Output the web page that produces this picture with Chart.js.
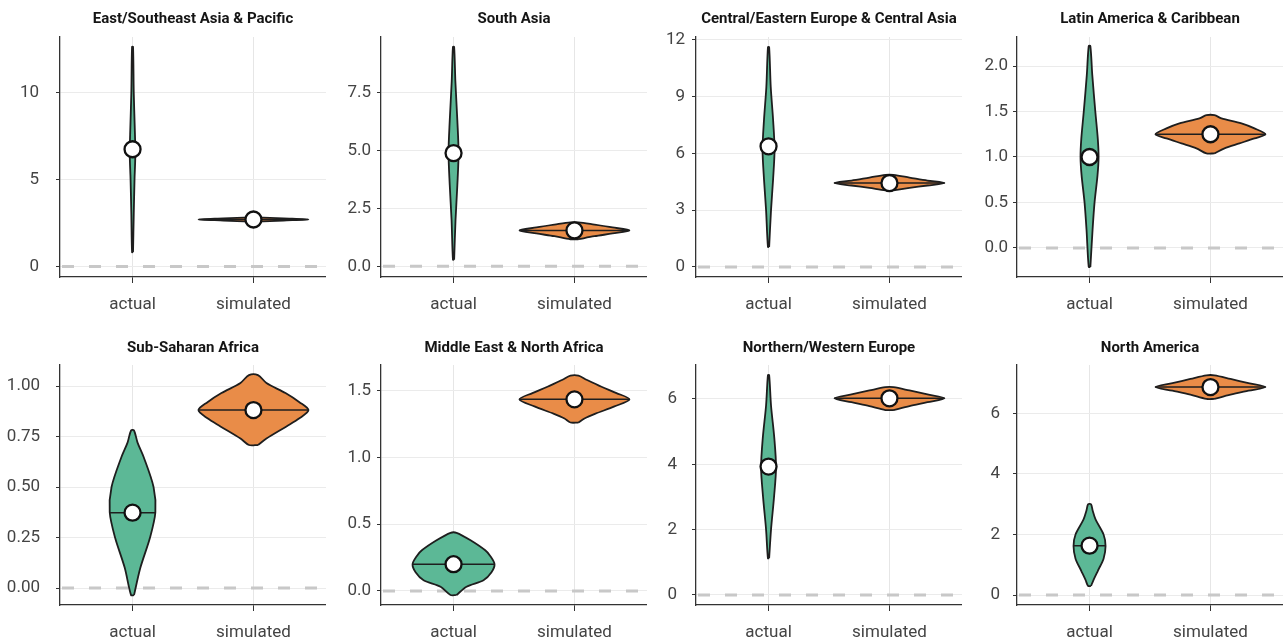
<!DOCTYPE html>
<html>
<head>
<meta charset="utf-8">
<script src="https://cdn.jsdelivr.net/npm/chart.js@4.4.1/dist/chart.umd.min.js"></script>
<style>
  html, body { margin: 0; padding: 0; background: #fff; }
  #wrap { position: relative; width: 1286px; height: 643px; overflow: hidden; }
  #wrap canvas { position: absolute; }
</style>
</head>
<body>
<div id="wrap"></div>
<script>
const regions = [
  'East/Southeast Asia & Pacific', 'South Asia', 'Central/Eastern Europe & Central Asia', 'Latin America & Caribbean',
  'Sub-Saharan Africa', 'Middle East & North Africa', 'Northern/Western Europe', 'North America'
];
const categories = ['actual', 'simulated'];

const yMin = [-0.61, -0.46, -0.53, -0.32, -0.084, -0.105, -0.31, -0.33];
const yMax = [13.2, 9.9, 12.14, 2.32, 1.104, 1.69, 7.04, 7.6];
const yTickLabels = [
  ['0', '5', '10'],
  ['0.0', '2.5', '5.0', '7.5'],
  ['0', '3', '6', '9', '12'],
  ['0.0', '0.5', '1.0', '1.5', '2.0'],
  ['0.00', '0.25', '0.50', '0.75', '1.00'],
  ['0.0', '0.5', '1.0', '1.5'],
  ['0', '2', '4', '6'],
  ['0', '2', '4', '6']
];

const actualMedian = [6.74, 4.89, 6.37, 1.0, 0.373, 0.2, 3.93, 1.63];
const simulatedMedian = [2.7, 1.55, 4.43, 1.25, 0.881, 1.433, 6.02, 6.87];

// violin outlines: value levels and relative density width (1 = widest violin)
const actualY = [
  [0.82, 3, 5, 6.5, 8, 10, 12.63],
  [0.29, 2, 3.5, 4.9, 6.3, 8, 9.47],
  [1.06, 3, 4.6, 6.2, 7.8, 9.5, 11.6],
  [-0.21, 0.2, 0.5, 0.8, 1.0, 1.2, 1.5, 1.9, 2.22],
  [-0.035, 0.1, 0.25, 0.375, 0.5, 0.65, 0.72, 0.78],
  [-0.03, 0.032, 0.08, 0.14, 0.2, 0.26, 0.304, 0.379, 0.435],
  [1.12, 2, 3, 3.9, 4.8, 5.8, 6.73],
  [0.3, 0.5, 0.8, 1.2, 1.62, 2.0, 2.5, 2.8, 3.0]
];
const actualWidth = [
  [0.009, 0.022, 0.036, 0.051, 0.04, 0.022, 0.009],
  [0.011, 0.036, 0.069, 0.091, 0.069, 0.033, 0.011],
  [0.011, 0.045, 0.082, 0.109, 0.082, 0.04, 0.011],
  [0.015, 0.055, 0.091, 0.145, 0.164, 0.15, 0.105, 0.05, 0.015],
  [0.027, 0.142, 0.318, 0.415, 0.382, 0.2, 0.091, 0.027],
  [0.055, 0.236, 0.545, 0.69, 0.745, 0.67, 0.576, 0.309, 0.055],
  [0.011, 0.045, 0.1, 0.136, 0.105, 0.045, 0.011],
  [0.027, 0.073, 0.151, 0.255, 0.291, 0.255, 0.109, 0.055, 0.027]
];
const simulatedY = [
  [2.58, 2.64, 2.7, 2.76, 2.82],
  [1.17, 1.3, 1.42, 1.55, 1.68, 1.8, 1.9],
  [4.04, 4.17, 4.3, 4.43, 4.56, 4.72, 4.86],
  [1.04, 1.095, 1.15, 1.205, 1.25, 1.315, 1.37, 1.425, 1.46],
  [0.708, 0.74, 0.8, 0.84, 0.881, 0.92, 0.965, 1.015, 1.054],
  [1.26, 1.29, 1.326, 1.38, 1.433, 1.48, 1.527, 1.58, 1.61],
  [5.66, 5.78, 5.9, 6.02, 6.14, 6.26, 6.36],
  [6.48, 6.62, 6.75, 6.87, 7.0, 7.14, 7.26]
];
const simulatedWidth = [
  [0.055, 0.545, 1, 0.545, 0.055],
  [0.073, 0.364, 0.691, 1, 0.691, 0.364, 0.073],
  [0.073, 0.364, 0.691, 1, 0.691, 0.364, 0.073],
  [0.073, 0.255, 0.527, 0.8, 1, 0.8, 0.564, 0.2, 0.073],
  [0.082, 0.236, 0.6, 0.836, 1, 0.836, 0.582, 0.236, 0.082],
  [0.073, 0.182, 0.382, 0.727, 1, 0.764, 0.491, 0.218, 0.073],
  [0.073, 0.364, 0.691, 1, 0.691, 0.364, 0.073],
  [0.073, 0.364, 0.691, 1, 0.691, 0.364, 0.073]
];

const xMin = -0.6, xMax = 1.6;
const halfWidth = 0.455;
const green = '#5cb896', orange = '#e98c48';

// layout
const axisLeft = [60, 380.5, 696, 1017, 60, 380.5, 696, 1017];
const labelGap = [21, 10, 11, 9, 20, 10, 19, 17];
const yAxisWidth = 56;
const font = 'Roboto';

function outline(center, ys, ws) {
  const right = ys.map((y, k) => ({ x: center + ws[k] * halfWidth, y: y }));
  const left = ys.map((y, k) => ({ x: center - ws[k] * halfWidth, y: y })).reverse();
  return right.concat(left, [right[0]]);
}

function widthAt(ys, ws, v) {
  for (let k = 0; k < ys.length - 1; k++) {
    if (v >= ys[k] && v <= ys[k + 1]) {
      const t = (v - ys[k]) / (ys[k + 1] - ys[k]);
      return (ws[k] + t * (ws[k + 1] - ws[k])) * halfWidth;
    }
  }
  return 0;
}

const wrap = document.getElementById('wrap');

regions.forEach((name, i) => {
  const row = i < 4 ? 0 : 1;
  const canvas = document.createElement('canvas');
  canvas.width = yAxisWidth + 266;
  canvas.height = row === 0 ? 321 : 322;
  canvas.style.left = (axisLeft[i] - yAxisWidth) + 'px';
  canvas.style.top = (row === 0 ? 0 : 321) + 'px';
  wrap.appendChild(canvas);

  const wa = widthAt(actualY[i], actualWidth[i], actualMedian[i]);
  const ws = widthAt(simulatedY[i], simulatedWidth[i], simulatedMedian[i]);

  const violin = (data, color) => ({
    data: data, showLine: true, fill: 'shape', backgroundColor: color,
    borderColor: '#1e1e1e', borderWidth: 1.8, borderJoinStyle: 'round',
    tension: 0.3, pointRadius: 0, order: 5
  });
  const medianLine = (c, w, m) => ({
    data: [{ x: c - w, y: m }, { x: c + w, y: m }], showLine: true,
    borderColor: '#1e1e1e', borderWidth: 1.5, pointRadius: 0, order: 3
  });

  new Chart(canvas, {
    type: 'scatter',
    data: {
      datasets: [
        {
          data: [{ x: xMin, y: 0 }, { x: xMax, y: 0 }], showLine: true,
          borderColor: '#c8c8c8', borderWidth: 3, borderDash: [12, 15], borderDashOffset: -2,
          pointRadius: 0, order: 10
        },
        violin(outline(0, actualY[i], actualWidth[i]), green),
        violin(outline(1, simulatedY[i], simulatedWidth[i]), orange),
        medianLine(0, wa, actualMedian[i]),
        medianLine(1, ws, simulatedMedian[i]),
        {
          data: [{ x: 0, y: actualMedian[i] }, { x: 1, y: simulatedMedian[i] }],
          pointRadius: 8, pointBackgroundColor: '#fff', pointBorderColor: '#111',
          pointBorderWidth: 2.3, order: 1
        }
      ]
    },
    options: {
      responsive: false,
      animation: false,
      events: [],
      layout: { padding: 0, autoPadding: false },
      plugins: {
        legend: { display: false },
        tooltip: { enabled: false },
        title: {
          display: true, text: name, fullSize: false, color: '#151515',
          font: { family: font, size: 15, weight: 'bold', lineHeight: 1.2 },
          padding: row === 0 ? { top: 10, bottom: 9 } : { top: 18, bottom: 8 }
        }
      },
      scales: {
        x: {
          type: 'linear', min: xMin, max: xMax,
          afterBuildTicks: (s) => { s.ticks = [{ value: 0 }, { value: 1 }]; },
          afterFit: (s) => {
            s.height = row === 0 ? 44 : 38;
            s.paddingLeft = 0;
            s.paddingRight = 0;
          },
          ticks: {
            callback: (v) => categories[v], color: '#444', padding: 12,
            font: { family: font, size: 17 }, maxRotation: 0
          },
          grid: { color: '#e6e6e6', lineWidth: 1, tickColor: '#333', tickLength: 6 },
          border: { color: '#333', width: 1.3 }
        },
        y: {
          type: 'linear', min: yMin[i], max: yMax[i],
          afterBuildTicks: (s) => { s.ticks = yTickLabels[i].map((t) => ({ value: Number(t) })); },
          afterFit: (s) => { s.width = yAxisWidth; },
          ticks: {
            callback: (v, idx) => yTickLabels[i][idx], color: '#444', padding: labelGap[i] - 4,
            font: { family: font, size: 17 }
          },
          grid: { color: '#ebebeb', lineWidth: 1, tickColor: '#333', tickLength: 4 },
          border: { color: '#333', width: 1.3 }
        }
      }
    }
  });
});
</script>
</body>
</html>
